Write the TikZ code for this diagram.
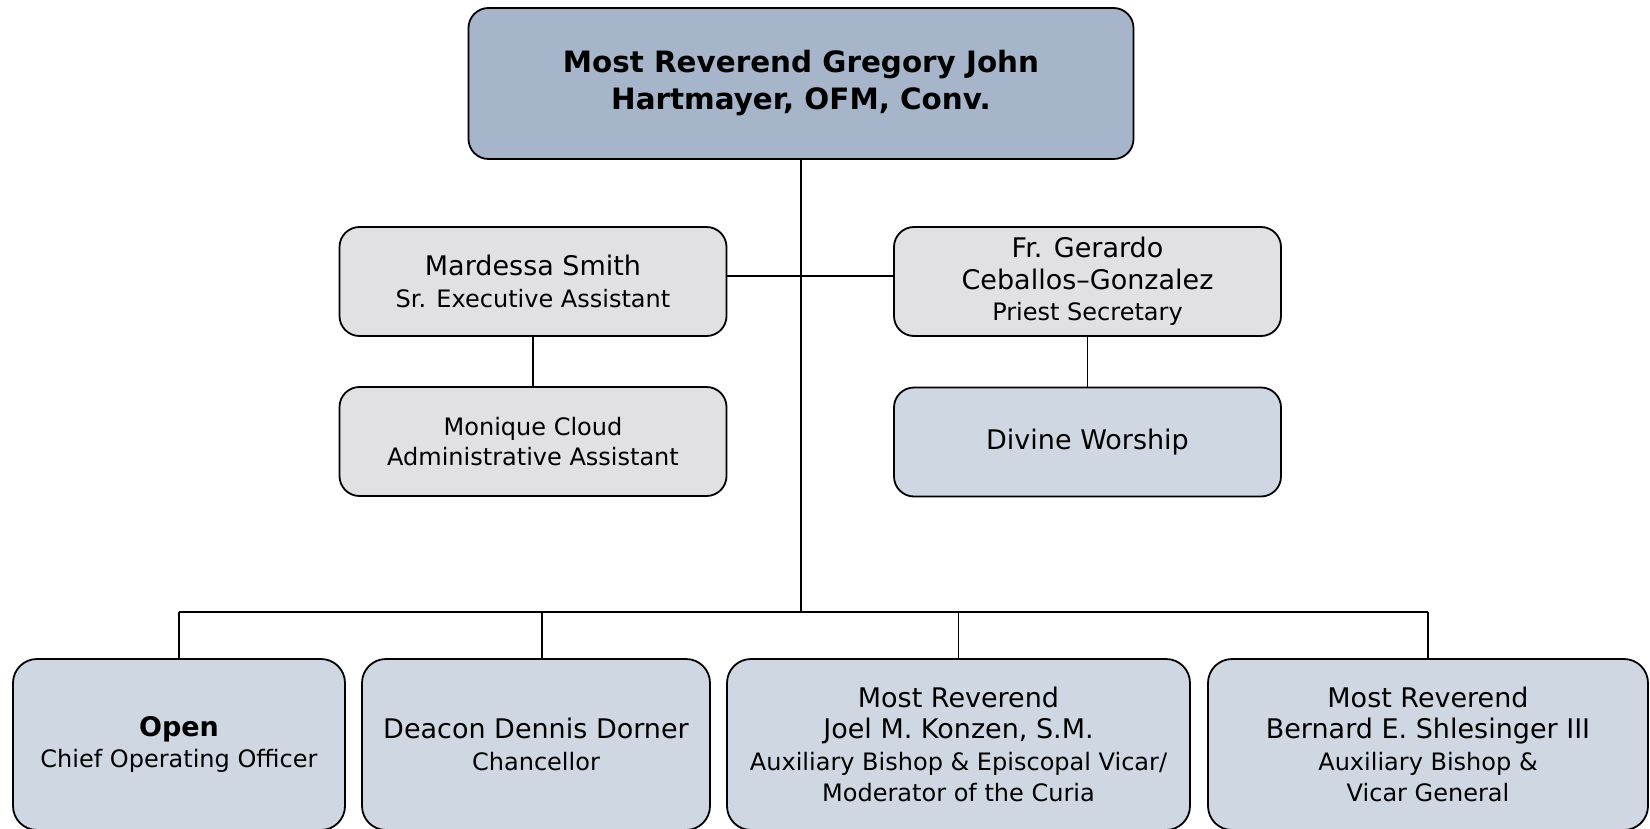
\documentclass[tikz,border=0pt]{standalone}
\usepackage{fontspec}
\setmainfont{DejaVu Sans}
\usepackage{tikz}

\definecolor{topblue}{HTML}{A6B5C9}
\definecolor{boxgray}{HTML}{E1E1E3}
\definecolor{boxblue}{HTML}{CFD8E2}

\newcommand{\nm}{\fontsize{13.5}{15.75}\selectfont}
\newcommand{\ti}{\fontsize{12}{14.75}\selectfont}

\begin{document}
\begin{tikzpicture}[
    x=0.5pt,y=-0.5pt,
    box/.style={rectangle,rounded corners=10pt,draw=black,line width=0.9pt,align=center,inner sep=0pt,font=\nm},
    mid/.style={box,fill=boxgray,minimum width=193.5pt,minimum height=54.5pt},
    dept/.style={box,fill=boxblue,minimum width=193.5pt,minimum height=54.5pt},
    low/.style={box,fill=boxblue,rounded corners=12pt,minimum height=85.5pt},
    link/.style={draw=black,line width=0.9pt},
    ]
    \useasboundingbox (0,0) rectangle (1650,829);
    \node[box,fill=topblue,minimum width=332.5pt,minimum height=75.5pt,
        font=\fontsize{14.7}{18.5}\selectfont\bfseries] (bish) at (801,83.5)
        {Most Reverend Gregory John\\ Hartmayer, OFM, Conv.};
    \node[mid] (smith) at (533,281.5) {Mardessa Smith\\ \ti Sr. Executive Assistant};
    \node[mid] (ceb) at (1087.5,281.5) {Fr. Gerardo\\ Ceballos--Gonzalez\\ \ti Priest Secretary};
    \node[mid,font=\ti] (cloud) at (533,441.5) {Monique Cloud\\ Administrative Assistant};
    \node[dept] (worship) at (1087.5,442) {Divine Worship};
    \node[low,minimum width=166pt] (coo) at (179,744.5) {\bfseries Open\\ \ti Chief Operating Officer};
    \node[low,minimum width=174pt] (chan) at (536,744.5) {Deacon Dennis Dorner\\ \ti Chancellor};
    \node[low,minimum width=231.5pt] (konzen) at (958.5,744.5)
        {Most Reverend\\ Joel M. Konzen, S.M.\\ \ti Auxiliary Bishop \& Episcopal Vicar/\\ \ti Moderator of the Curia};
    \node[low,minimum width=220pt] (shles) at (1428,744.5)
        {Most Reverend\\ Bernard E. Shlesinger III\\ \ti Auxiliary Bishop \&\\ \ti Vicar General};
    % bus line
    \coordinate (bus) at (801,612);
    \draw[link] (bish.south) -- (bish.south |- bus);
    \draw[link] ([yshift=2.75pt]smith.east) -- ([yshift=2.75pt]ceb.west);
    \draw[link] (smith.south) -- (cloud.north);
    \draw[link] (ceb.south) -- (worship.north);
    \draw[link] (coo.north |- bus) -- (shles.north |- bus);
    \foreach \b/\s in {coo/0,chan/3,konzen/0,shles/0}
        \draw[link] ([xshift=\s pt]\b.north |- bus) -- ([xshift=\s pt]\b.north);
\end{tikzpicture}
\end{document}
